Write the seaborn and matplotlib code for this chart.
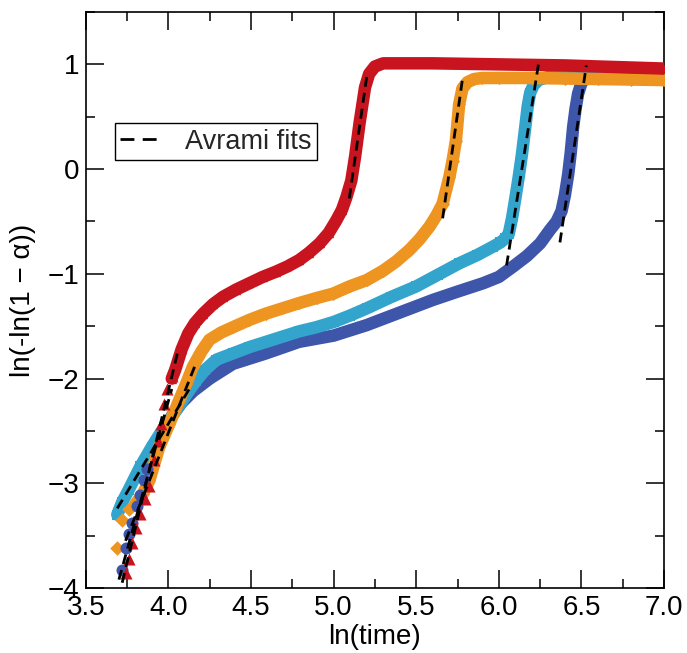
import numpy as np
import pandas as pd
import matplotlib
matplotlib.use("Agg")
import matplotlib.pyplot as plt
from matplotlib.lines import Line2D
from matplotlib.ticker import MultipleLocator, FormatStrFormatter
import seaborn as sns

# ---------------- data ----------------
# red series (triangles)
red_early_x = [3.743, 3.762, 3.78, 3.805, 3.83, 3.858, 3.885, 3.915, 3.935, 3.956, 3.976, 3.99, 4.02]
red_early_y = [-3.86, -3.72, -3.57, -3.43, -3.29, -3.15, -3.03, -2.78, -2.60, -2.43, -2.24, -2.10, -1.98]
red_x = [4.02, 4.04, 4.08, 4.12, 4.16, 4.21, 4.27, 4.33, 4.41, 4.49, 4.57, 4.65, 4.72, 4.79, 4.85,
         4.915, 4.97, 5.016, 5.05, 5.077, 5.107, 5.13, 5.157, 5.19, 5.215, 5.25, 5.30, 5.40,
         5.6, 5.8, 6.0, 6.2, 6.4, 6.6, 6.8, 7.0]
red_y = [-2.00, -1.92, -1.72, -1.57, -1.47, -1.38, -1.29, -1.22, -1.15, -1.09, -1.03, -0.98, -0.93,
         -0.87, -0.80, -0.71, -0.61, -0.49, -0.39, -0.27, -0.11, 0.12, 0.44, 0.78, 0.91, 0.98,
         1.01, 1.01, 1.01, 1.005, 1.00, 0.995, 0.99, 0.98, 0.97, 0.96]

# orange series (diamonds)
orange_early_x = [3.69, 3.72, 3.76]
orange_early_y = [-3.62, -3.35, -3.25]
orange_x = [3.80, 3.845, 3.885, 3.945, 4.006, 4.067, 4.107, 4.147, 4.20, 4.248, 4.32, 4.39,
            4.49, 4.59, 4.69, 4.79, 4.90, 4.996, 5.097, 5.20, 5.30, 5.38, 5.46, 5.52, 5.58,
            5.62, 5.66, 5.70, 5.72, 5.74, 5.76, 5.78, 5.81, 5.85, 5.90, 6.0, 6.2, 6.4, 6.6,
            6.8, 7.0]
orange_y = [-3.20, -3.10, -2.97, -2.65, -2.43, -2.20, -2.05, -1.89, -1.74, -1.63, -1.56,
            -1.51, -1.44, -1.38, -1.33, -1.28, -1.23, -1.19, -1.12, -1.06, -0.97, -0.88,
            -0.77, -0.67, -0.55, -0.45, -0.33, -0.08, 0.08, 0.27, 0.62, 0.77, 0.83, 0.86,
            0.87, 0.87, 0.87, 0.865, 0.86, 0.855, 0.85]

# light blue series (squares)
cyan_x = [3.69, 3.72, 3.76, 3.83, 3.90, 3.976, 4.047, 4.127, 4.168, 4.22, 4.29, 4.39, 4.49,
          4.59, 4.69, 4.79, 4.895, 5.0, 5.097, 5.20, 5.35, 5.50, 5.63, 5.76, 5.87, 5.965,
          6.01, 6.04, 6.06, 6.08, 6.10, 6.12, 6.14, 6.16, 6.175, 6.19, 6.21, 6.24, 6.30,
          6.5, 6.8, 7.0]
cyan_y = [-3.30, -3.18, -3.06, -2.84, -2.65, -2.46, -2.30, -2.11, -2.02, -1.92, -1.82, -1.76,
          -1.70, -1.65, -1.60, -1.55, -1.51, -1.46, -1.40, -1.33, -1.22, -1.12, -1.01, -0.90,
          -0.82, -0.74, -0.70, -0.66, -0.62, -0.47, -0.28, -0.08, 0.14, 0.40, 0.60, 0.73,
          0.80, 0.85, 0.88, 0.89, 0.90, 0.90]

# dark blue series (circles)
blue_early_x = [3.72, 3.745, 3.76, 3.78, 3.81, 3.83, 3.85, 3.87]
blue_early_y = [-3.83, -3.62, -3.48, -3.38, -3.22, -3.11, -2.97, -2.86]
blue_x = [3.90, 3.95, 4.02, 4.08, 4.15, 4.25, 4.39, 4.59, 4.79, 5.0, 5.2, 5.4, 5.6, 5.75,
          5.905, 6.0, 6.087, 6.17, 6.25, 6.31, 6.35, 6.38, 6.40, 6.42, 6.435, 6.45, 6.465,
          6.48, 6.50, 6.53, 6.58, 6.7, 6.85, 7.0]
blue_y = [-2.72, -2.55, -2.36, -2.23, -2.12, -2.00, -1.86, -1.76, -1.65, -1.59, -1.49, -1.37,
          -1.25, -1.17, -1.09, -1.03, -0.93, -0.83, -0.71, -0.58, -0.50, -0.40, -0.25, -0.05,
          0.15, 0.40, 0.58, 0.72, 0.82, 0.88, 0.90, 0.91, 0.92, 0.92]

# Avrami fit segments (start/end points)
fit_x0 = [3.72, 3.70, 3.74, 3.69, 5.095, 5.66, 6.047, 6.37]
fit_x1 = [4.06, 4.02, 4.17, 4.13, 5.20, 5.78, 6.24, 6.53]
fit_y0 = [-3.95, -3.92, -3.55, -3.24, -0.28, -0.47, -0.92, -0.70]
fit_y1 = [-1.72, -2.10, -1.84, -2.09, 0.88, 0.86, 1.00, 0.99]

x_ticks = [3.5, 4.0, 4.5, 5.0, 5.5, 6.0, 6.5, 7.0]
y_ticks = [-4, -3, -2, -1, 0, 1]

# ---------------- styling ----------------
sns.set_theme(style="white")
plt.rcParams["font.family"] = ["Liberation Sans", "DejaVu Sans"]
plt.rcParams["axes.unicode_minus"] = True

RED = "#c8141f"
ORANGE = "#ee9420"
CYAN = "#33a5cc"
BLUE = "#3e56aa"

fig = plt.figure(figsize=(6.87, 6.53), dpi=100)
ax = fig.add_axes([0.125, 0.0996, 0.8415, 0.882])

band_lw = 9.0
band_kw = dict(sort=False, estimator=None, linewidth=band_lw,
               solid_capstyle="round", solid_joinstyle="round", legend=False)

series = [
    (blue_x, blue_y, BLUE, "o", 2),
    (cyan_x, cyan_y, CYAN, "s", 3),
    (orange_x, orange_y, ORANGE, "D", 4),
    (red_x, red_y, RED, "^", 5),
]
for xs, ys, col, mk, z in series:
    df = pd.DataFrame({"x": xs, "y": ys})
    sns.lineplot(data=df, x="x", y="y", ax=ax, color=col, zorder=z, **band_kw)
    sns.scatterplot(data=df, x="x", y="y", ax=ax, color=col, marker=mk, s=45,
                    linewidth=0, zorder=z, legend=False)

early = [
    (orange_early_x, orange_early_y, ORANGE, "D", 55),
    (blue_early_x, blue_early_y, BLUE, "o", 75),
    (red_early_x, red_early_y, RED, "^", 75),
]
for i, (xs, ys, col, mk, s) in enumerate(early):
    df = pd.DataFrame({"x": xs, "y": ys})
    sns.scatterplot(data=df, x="x", y="y", ax=ax, color=col, marker=mk, s=s,
                    linewidth=0, zorder=6 + i * 0.1, legend=False)

dash = (0, (3.6, 2.2))
for x0, x1, y0, y1 in zip(fit_x0, fit_x1, fit_y0, fit_y1):
    df = pd.DataFrame({"x": [x0, x1], "y": [y0, y1]})
    sns.lineplot(data=df, x="x", y="y", ax=ax, color="black", linewidth=2.0,
                 linestyle=dash, sort=False, estimator=None, zorder=8, legend=False)

ax.set_xlim(3.5, 7.0)
ax.set_ylim(-4, 1.5)
ax.xaxis.set_major_locator(MultipleLocator(0.5))
ax.xaxis.set_minor_locator(MultipleLocator(0.25))
ax.yaxis.set_major_locator(MultipleLocator(1))
ax.yaxis.set_minor_locator(MultipleLocator(0.5))
ax.xaxis.set_major_formatter(FormatStrFormatter("%.1f"))
ax.set_xticks(x_ticks)
ax.set_yticks(y_ticks)

ax.tick_params(which="both", direction="in", top=True, right=True, bottom=True, left=True,
               colors="black", labelsize=20)
ax.tick_params(which="major", length=13, width=1.1, pad=5)
ax.tick_params(which="minor", length=6.5, width=1.1)
for sp in ax.spines.values():
    sp.set_color("black")
    sp.set_linewidth(1.2)

ax.set_xlabel("ln(time)", fontsize=20, color="black", labelpad=2)
ax.set_ylabel("ln(-ln(1 \u2212 \u03b1))", fontsize=20, color="black", labelpad=8)

handle = Line2D([], [], color="black", linewidth=2.0, linestyle=(0, (5, 3)))
leg = ax.legend(handles=[handle], labels=["Avrami fits"], loc="upper left",
                bbox_to_anchor=(0.05, 0.807), fontsize=19.5, frameon=True, fancybox=False,
                framealpha=1, edgecolor="black", borderpad=0.2, handlelength=1.6,
                handletextpad=0.8, borderaxespad=0)
leg.get_frame().set_linewidth(1.0)

fig.savefig("out.png", dpi=100)
